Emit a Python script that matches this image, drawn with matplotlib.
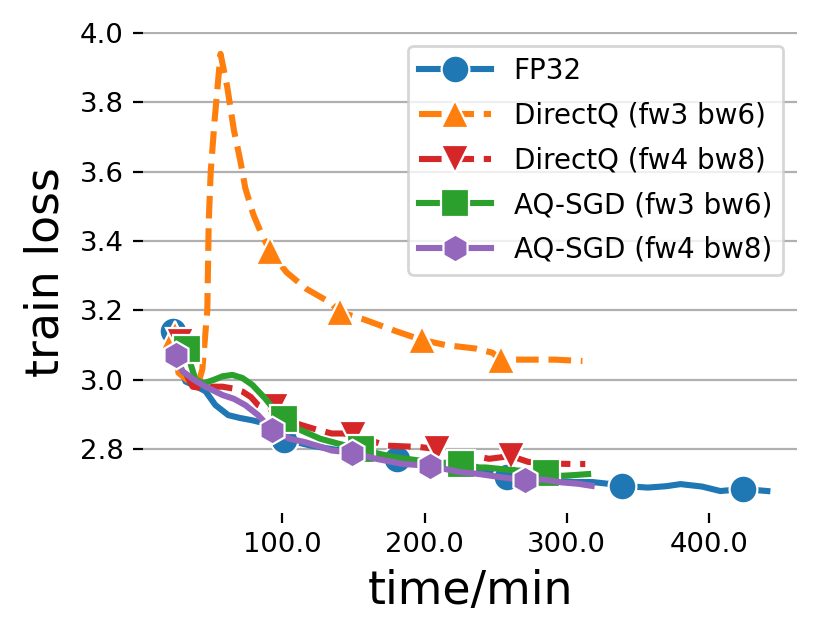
import numpy as np
import matplotlib
matplotlib.use("Agg")
import matplotlib.pyplot as plt
from matplotlib.ticker import FormatStrFormatter

# FP32
fp32_x = [23, 27, 32, 40, 46, 53, 62, 70, 79, 88, 95, 101, 110, 120, 135, 150, 166, 181,
          195, 210, 225, 240, 258, 275, 290, 305, 318, 329, 338.5, 357, 370, 380, 395, 408, 424, 441]
fp32_y = [3.14, 3.05, 2.995, 2.98, 2.967, 2.927, 2.898, 2.89, 2.883, 2.874, 2.85, 2.825, 2.82, 2.81,
          2.80, 2.79, 2.78, 2.772, 2.765, 2.755, 2.745, 2.735, 2.72, 2.715, 2.71, 2.705, 2.705, 2.70,
          2.694, 2.689, 2.693, 2.699, 2.692, 2.679, 2.685, 2.679]
fp32_marks = [0, 11, 17, 22, 28, 34]

# DirectQ (fw3 bw6)
dq36_x = [24.5, 27, 33, 41, 43.8, 47.3, 48.3, 49.7, 52.4, 56.6, 61.3, 66, 70.6, 74, 79.7, 85.8,
          91.6, 103, 117, 133.6, 140.6, 156.7, 180, 198, 215, 236, 247.7, 253.6, 271, 292, 311]
dq36_y = [3.13, 3.02, 3.0, 2.99, 3.03, 3.20, 3.456, 3.60, 3.747, 3.94, 3.845, 3.72, 3.63, 3.553,
          3.476, 3.417, 3.37, 3.31, 3.262, 3.223, 3.195, 3.175, 3.14, 3.115, 3.10, 3.09, 3.078,
          3.058, 3.058, 3.058, 3.054]
dq36_marks = [0, 16, 20, 23, 27]

# DirectQ (fw4 bw8)
dq48_x = [28, 32, 37, 45, 52, 58, 65, 72, 78, 83, 89, 95, 105, 121, 134.7, 143, 150, 162, 173,
          185, 196.5, 209, 222, 235, 245.5, 260.6, 273, 290, 306, 313]
dq48_y = [3.11, 3.02, 2.98, 2.975, 2.98, 2.98, 2.975, 2.966, 2.95, 2.927, 2.915, 2.92, 2.88, 2.86,
          2.845, 2.845, 2.84, 2.825, 2.81, 2.808, 2.806, 2.80, 2.79, 2.78, 2.772, 2.78, 2.763,
          2.758, 2.757, 2.757]
dq48_marks = [0, 11, 16, 21, 25]

# AQ-SGD (fw3 bw6)
aq36_x = [33, 36, 39, 45, 52, 58, 65, 72, 79, 88, 95, 101, 110, 126.6, 140, 155, 168.5, 180,
          200, 225.6, 238.5, 243, 260, 275, 285.5, 296.5, 305, 315]
aq36_y = [3.09, 3.04, 3.0, 2.99, 3.0, 3.01, 3.014, 3.005, 2.985, 2.946, 2.91, 2.888, 2.86, 2.83,
          2.815, 2.80, 2.786, 2.776, 2.765, 2.757, 2.747, 2.747, 2.74, 2.735, 2.73, 2.723, 2.725, 2.728]
aq36_marks = [0, 11, 15, 19, 24]

# AQ-SGD (fw4 bw8)
aq48_x = [25, 30, 38, 46, 58, 66, 74, 83, 92.8, 105, 116, 126.6, 134.7, 148.7, 166, 185, 203.5,
          224.5, 238.5, 252, 270.6, 284, 296.5, 308, 317.5]
aq48_y = [3.07, 3.024, 3.0, 2.98, 2.956, 2.945, 2.927, 2.898, 2.854, 2.83, 2.82, 2.807, 2.796,
          2.79, 2.772, 2.757, 2.752, 2.734, 2.728, 2.72, 2.71, 2.712, 2.704, 2.70, 2.694]
aq48_marks = [0, 8, 13, 16, 20]

series = [
    ("FP32", fp32_x, fp32_y, fp32_marks, "#1f77b4", "-", "o"),
    ("DirectQ (fw3 bw6)", dq36_x, dq36_y, dq36_marks, "#ff7f0e", "--", "^"),
    ("DirectQ (fw4 bw8)", dq48_x, dq48_y, dq48_marks, "#d62728", "--", "v"),
    ("AQ-SGD (fw3 bw6)", aq36_x, aq36_y, aq36_marks, "#2ca02c", "-", "s"),
    ("AQ-SGD (fw4 bw8)", aq48_x, aq48_y, aq48_marks, "#9467bd", "-", "h"),
]

fig = plt.figure(figsize=(4.145, 3.17), dpi=200)
ax = fig.add_axes([0.1725, 0.191, 0.789, 0.7585])

for label, x, y, marks, color, ls, mk in series:
    ax.plot(x, y, ls, color=color, lw=2.2, marker=mk, markevery=marks,
            markersize=10, markeredgecolor="white", markeredgewidth=0.8, label=label)

for s in ax.spines.values():
    s.set_visible(False)
ax.grid(axis="y", color="#b0b0b0", lw=0.8)
ax.set_axisbelow(True)
ax.tick_params(labelsize=9.9)
ax.xaxis.set_major_formatter(FormatStrFormatter("%.1f"))
ax.yaxis.set_major_formatter(FormatStrFormatter("%.1f"))
ax.set_xlabel("time/min", fontsize=16.5)
ax.set_ylabel("train loss", fontsize=16.5)
ax.legend(loc="upper right", fontsize=10, handlelength=2.6, labelspacing=0.6)

fig.savefig("out.png", dpi=200)
